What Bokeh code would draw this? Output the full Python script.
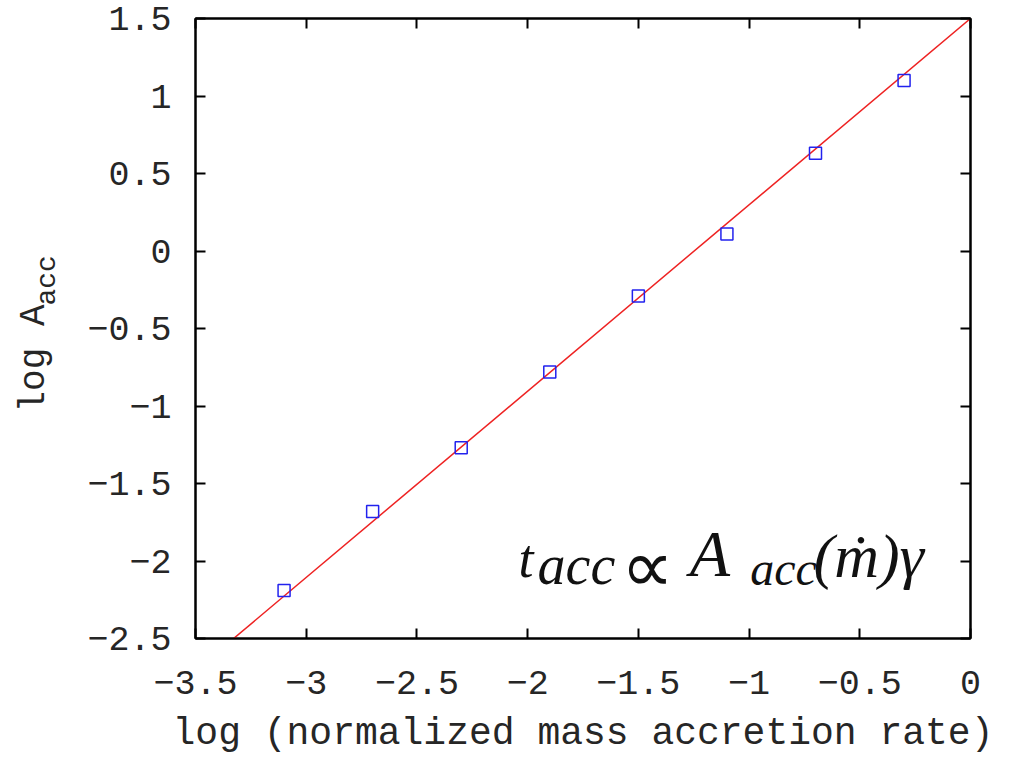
from bokeh.plotting import figure
from bokeh.layouts import row
from bokeh.models import Range1d, LinearAxis, Label, FixedTicker
from bokeh.embed import file_html
from bokeh.resources import INLINE

# Accretion amplitude vs normalized mass accretion rate (log-log)
log_mdot = [-3.1, -2.7, -2.3, -1.9, -1.5, -1.1, -0.7, -0.3]
log_A_acc = [-2.19, -1.68, -1.27, -0.78, -0.29, 0.11, 0.63, 1.10]

# Linear fit: log A_acc = slope * log mdot + intercept
fit_slope = 1.202
fit_intercept = 1.5
fit_x = [-3.5, 0.0]

x_ticks = [-3.5, -3.0, -2.5, -2.0, -1.5, -1.0, -0.5, 0.0]
x_tick_labels = ["\u22123.5", "\u22123", "\u22122.5", "\u22122", "\u22121.5", "\u22121", "\u22120.5", "0"]
y_ticks = [-2.5, -2.0, -1.5, -1.0, -0.5, 0.0, 0.5, 1.0, 1.5]
y_tick_labels = ["\u22122.5", "\u22122", "\u22121.5", "\u22121", "\u22120.5", "0", "0.5", "1", "1.5"]

MONO = "Liberation Mono"
SERIF = "Liberation Serif"
TEXT_COLOR = "#262626"
H = 758
LEFT_W = 70
TOP, BOTTOM = 18, 120

# Label baselines land about 0.45 em below the anchor; shift anchors to compensate
BASELINE_SHIFT = 0.45

# ---- narrow strip on the left carrying the rotated y-axis title ----
# its frame is aligned with the main frame, so map y so that data == pixels from the bottom
ylab = figure(width=LEFT_W, height=H, output_backend="svg", toolbar_location=None,
              x_range=Range1d(0, LEFT_W), y_range=Range1d(BOTTOM, H - TOP),
              x_axis_location=None, y_axis_location=None, title=None,
              min_border=0, outline_line_color=None)
ylab.grid.visible = False
ylab.border_fill_color = "white"
ylab.background_fill_color = "white"


def vlabel(fig, bx, by, txt, size):
    fig.add_layout(Label(x=bx - BASELINE_SHIFT * size, y=by, text=txt, angle=1.5708,
                         text_font=MONO, text_font_size=f"{size}px", text_color=TEXT_COLOR,
                         text_align="left", text_baseline="alphabetic"))


vlabel(ylab, 50, H - 412, "log A", 36)
vlabel(ylab, 60, H - 305, "acc", 28)

# ---- main plot ----
p = figure(width=1014 - LEFT_W, height=H, output_backend="svg", toolbar_location=None,
           x_range=Range1d(-3.5, 0), y_range=Range1d(-2.5, 1.5))
p.min_border_left = 125
p.min_border_right = 44
p.min_border_top = TOP
p.min_border_bottom = BOTTOM
p.grid.visible = False
p.outline_line_color = "black"
p.outline_line_width = 2
p.background_fill_color = "white"
p.border_fill_color = "white"


def style_axis(ax, ticks, labels, show_labels=True):
    ax.ticker = FixedTicker(ticks=ticks)
    ax.major_label_overrides = {t: l for t, l in zip(ticks, labels)}
    ax.major_tick_in = 10
    ax.major_tick_out = 0
    ax.minor_tick_in = 0
    ax.minor_tick_out = 0
    ax.major_tick_line_color = "black"
    ax.major_tick_line_width = 2
    ax.axis_line_color = "black"
    ax.axis_line_width = 2
    ax.major_label_text_font = MONO
    ax.major_label_text_font_size = "35px"
    ax.major_label_text_color = TEXT_COLOR if show_labels else None


style_axis(p.xaxis[0], x_ticks, x_tick_labels)
p.xaxis[0].major_label_standoff = 32
p.xaxis[0].axis_label = "log (normalized mass accretion rate)"
p.xaxis[0].axis_label_text_font = MONO
p.xaxis[0].axis_label_text_font_size = "38px"
p.xaxis[0].axis_label_text_font_style = "normal"
p.xaxis[0].axis_label_text_color = TEXT_COLOR
p.xaxis[0].axis_label_text_line_height = 0.7
p.xaxis[0].axis_label_standoff = 15

style_axis(p.yaxis[0], y_ticks, y_tick_labels)
p.yaxis[0].major_label_standoff = 24

top_axis = LinearAxis()
style_axis(top_axis, x_ticks, x_tick_labels, show_labels=False)
p.add_layout(top_axis, "above")
right_axis = LinearAxis()
style_axis(right_axis, y_ticks, y_tick_labels, show_labels=False)
p.add_layout(right_axis, "right")

# Fit line and data points
fit_y = [fit_slope * x + fit_intercept for x in fit_x]
p.line(fit_x, fit_y, line_color="#ee2222", line_width=1.5)
p.scatter(log_mdot, log_A_acc, marker="square", size=12, fill_color=None,
          line_color="#2222ee", line_width=1.5)

# Scaling relation t_acc ∝ A_acc(ṁ)γ  (x in data units, baseline in data units)
Y_PER_PX = 4.0 / 620
eq_parts = [
    (-2.041, -2.145, "t", 54, "italic"),
    (-1.955, -2.190, "acc", 56, "italic"),
    (-1.580, -2.254, "\u221d", 74, "normal"),
    (-1.268, -2.145, "A", 66, "italic"),
    (-0.995, -2.190, "acc", 48, "italic"),
    (-0.709, -2.145, "(\u1e41)\u03b3", 62, "italic"),
]
for ex, ey, txt, fs, style in eq_parts:
    p.add_layout(Label(x=ex, y=ey + BASELINE_SHIFT * fs * Y_PER_PX, text=txt, text_font=SERIF,
                       text_font_style=style, text_font_size=f"{fs}px", text_color="#111111",
                       text_align="left", text_baseline="alphabetic"))

open("out.html", "w").write(file_html(row(ylab, p, spacing=0), INLINE))
